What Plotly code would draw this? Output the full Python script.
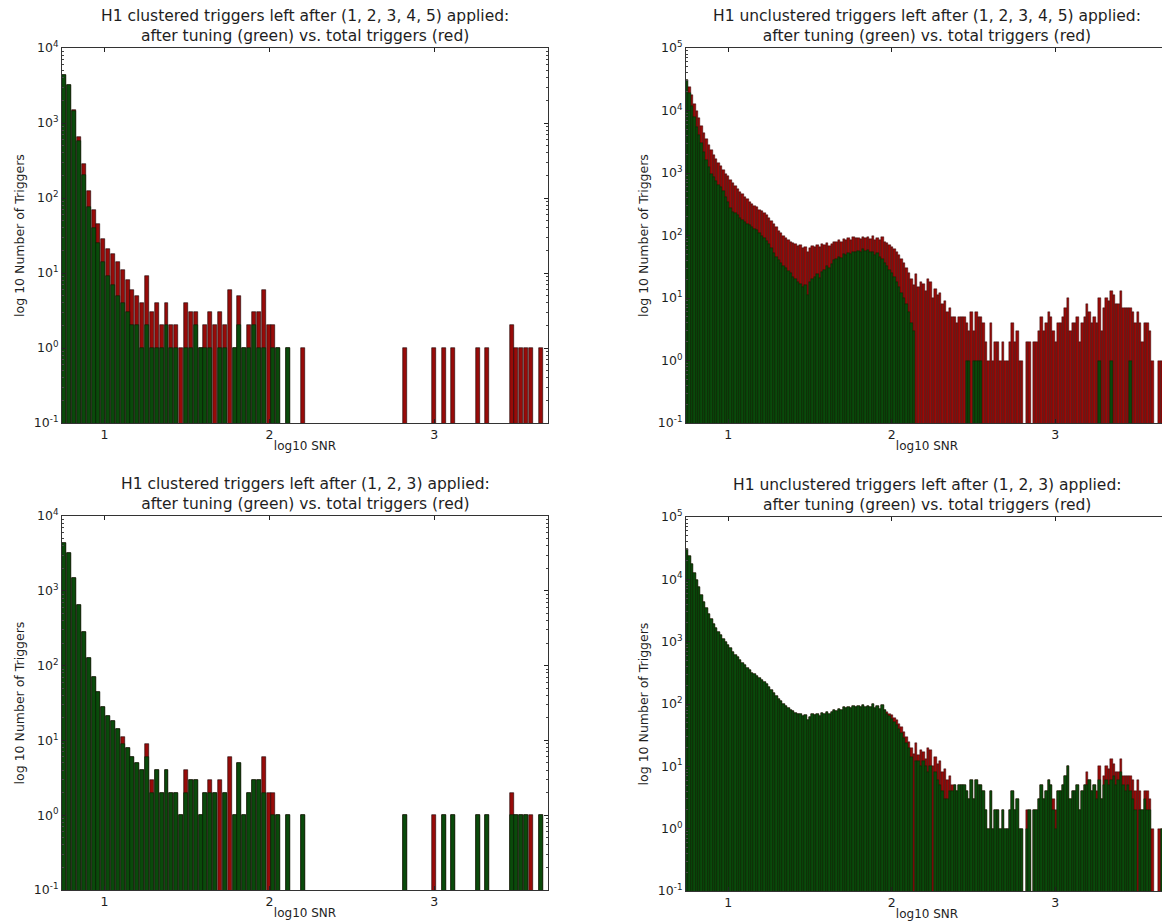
import numpy as np
import plotly.graph_objects as go

# ---------------- data ----------------
SNR_MIN = 0.742
SNR_MAX = 3.69
CLUSTERED_BINS = 100
UNCLUSTERED_BINS = 200

# clustered triggers: total (red)
clustered_total = [
    4300, 3200, 1500, 650, 280, 125, 70, 45, 28, 21,
    18, 14, 11, 8, 6, 5, 4, 9, 3, 4,
    2, 4, 2, 2, 1, 4, 3, 3, 1, 2,
    3, 2, 3, 2, 6, 1, 5, 1, 2, 3,
    3, 6, 2, 2, 1, 0, 1, 0, 0, 1,
    0, 0, 0, 0, 0, 0, 0, 0, 0, 0,
    0, 0, 0, 0, 0, 0, 0, 0, 0, 0,
    1, 0, 0, 0, 0, 0, 1, 0, 1, 0,
    1, 0, 0, 0, 0, 1, 0, 1, 0, 0,
    0, 0, 2, 1, 1, 1, 1, 0, 1, 0,
]
# clustered, after tuning with (1,2,3,4,5)
clustered_tuned_12345 = [
    4300, 3200, 1450, 580, 200, 75, 40, 25, 14, 9,
    7, 5, 4, 3, 2, 2, 1, 2, 1, 1,
    1, 2, 1, 1, 0, 1, 1, 2, 1, 1,
    1, 0, 1, 1, 0, 1, 2, 1, 1, 2,
    1, 1, 0, 1, 1, 0, 1, 0, 0, 0,
    0, 0, 0, 0, 0, 0, 0, 0, 0, 0,
    0, 0, 0, 0, 0, 0, 0, 0, 0, 0,
    0, 0, 0, 0, 0, 0, 0, 0, 0, 0,
    0, 0, 0, 0, 0, 0, 0, 0, 0, 0,
    0, 0, 0, 0, 0, 0, 0, 0, 0, 0,
]
# clustered, after tuning with (1,2,3)
clustered_tuned_123 = [
    4300, 3200, 1500, 650, 280, 125, 70, 45, 28, 21,
    18, 14, 9, 8, 6, 5, 4, 6, 2, 4,
    2, 4, 2, 2, 1, 2, 3, 3, 1, 2,
    2, 2, 0, 2, 0, 1, 5, 1, 2, 3,
    3, 2, 0, 1, 1, 0, 1, 0, 0, 1,
    0, 0, 0, 0, 0, 0, 0, 0, 0, 0,
    0, 0, 0, 0, 0, 0, 0, 0, 0, 0,
    1, 0, 0, 0, 0, 0, 0, 0, 1, 0,
    1, 0, 0, 0, 0, 1, 0, 1, 0, 0,
    0, 0, 1, 1, 1, 1, 0, 0, 1, 0,
]

# unclustered triggers: total (red)
unclustered_total = [
    31000, 24000, 17500, 12500, 9800, 7600, 5600, 4300, 3500, 2800,
    2300, 1950, 1650, 1450, 1300, 1120, 980, 880, 780, 690,
    610, 560, 500, 455, 415, 380, 350, 320, 300, 285,
    260, 245, 225, 210, 190, 170, 150, 135, 120, 110,
    100, 92, 85, 80, 76, 72, 68, 70, 64, 66,
    55, 63, 68, 66, 70, 65, 72, 70, 75, 68,
    74, 80, 78, 84, 80, 88, 85, 90, 86, 94,
    90, 92, 88, 96, 90, 94, 88, 100, 86, 92,
    84, 95, 80, 75, 70, 66, 60, 55, 48, 42,
    36, 30, 25, 20, 16, 24, 15, 18, 17, 13,
    20, 18, 10, 14, 11, 12, 8, 9, 6, 7,
    5, 5, 4, 5, 5, 5, 4, 3, 6, 3,
    6, 5, 5, 4, 2, 1, 4, 1, 2, 2,
    1, 2, 1, 1, 2, 4, 2, 3, 1, 1,
    0, 2, 2, 0, 2, 2, 3, 5, 3, 4,
    6, 5, 3, 2, 4, 4, 5, 7, 10, 3,
    4, 4, 5, 2, 4, 5, 8, 6, 4, 5,
    4, 10, 3, 7, 10, 9, 13, 11, 8, 8,
    13, 7, 7, 7, 7, 6, 4, 6, 4, 2,
    4, 4, 3, 1, 0, 0, 1, 1, 1, 1,
]
# unclustered, after tuning with (1,2,3,4,5)
unclustered_tuned_12345 = [
    31000, 19000, 12000, 8000, 5500, 4000, 3000, 2200, 1600, 1250,
    980, 850, 740, 650, 600, 520, 420, 340, 280, 240,
    225, 210, 190, 175, 165, 155, 145, 135, 128, 122,
    110, 100, 92, 82, 72, 62, 52, 46, 40, 36,
    32, 30, 27, 25, 22, 20, 18, 17, 15, 16,
    11, 18, 20, 22, 24, 21, 26, 28, 32, 30,
    35, 40, 42, 46, 44, 50, 48, 52, 50, 55,
    54, 57, 55, 60, 56, 58, 54, 55, 48, 52,
    45, 42, 36, 32, 28, 25, 22, 18, 15, 12,
    10, 8, 6, 4, 3, 0, 0, 0, 0, 0,
    0, 0, 0, 0, 0, 0, 0, 0, 0, 0,
    0, 0, 0, 0, 0, 0, 1, 1, 0, 1,
    1, 1, 1, 0, 0, 0, 0, 0, 0, 0,
    0, 0, 0, 0, 0, 0, 0, 0, 0, 0,
    0, 0, 0, 0, 0, 0, 0, 0, 0, 0,
    0, 0, 0, 0, 0, 0, 0, 0, 0, 0,
    0, 0, 0, 0, 0, 0, 0, 0, 0, 0,
    0, 1, 0, 0, 0, 0, 1, 0, 0, 0,
    0, 0, 0, 0, 1, 0, 0, 0, 0, 0,
    0, 0, 0, 0, 0, 0, 0, 0, 1, 1,
]
# unclustered, after tuning with (1,2,3)
unclustered_tuned_123 = [
    31000, 24000, 17500, 12500, 9800, 7600, 5600, 4300, 3500, 2800,
    2300, 1950, 1650, 1450, 1300, 1120, 980, 880, 780, 690,
    610, 560, 500, 455, 415, 380, 350, 320, 300, 285,
    260, 245, 225, 210, 190, 170, 150, 135, 120, 110,
    100, 92, 85, 80, 76, 72, 68, 70, 64, 66,
    55, 63, 68, 66, 70, 65, 72, 70, 75, 68,
    74, 80, 78, 84, 80, 88, 85, 90, 86, 94,
    90, 92, 88, 96, 90, 94, 88, 100, 86, 92,
    84, 95, 80, 70, 64, 58, 52, 46, 40, 34,
    28, 24, 20, 14, 0, 12, 12, 10, 12, 10,
    8, 10, 0, 8, 6, 5, 4, 3, 3, 4,
    4, 5, 4, 5, 5, 5, 4, 3, 6, 3,
    6, 5, 5, 4, 2, 1, 4, 1, 2, 2,
    1, 2, 1, 1, 2, 4, 2, 3, 1, 1,
    0, 1, 2, 0, 2, 2, 3, 5, 3, 4,
    6, 5, 2, 1, 4, 4, 5, 7, 10, 3,
    4, 4, 5, 2, 4, 5, 5, 6, 4, 5,
    3, 6, 3, 5, 6, 5, 6, 7, 5, 6,
    8, 5, 4, 5, 4, 3, 2, 0, 2, 2,
    3, 2, 2, 0, 0, 0, 0, 1, 1, 1,
]

x_tick_vals = [1, 2, 3]
x_tick_text = ["1", "2", "3"]
y_tick_exps = [-1, 0, 1, 2, 3, 4, 5]

titles = [
    "H1 clustered triggers left after (1, 2, 3, 4, 5) applied:<br>after tuning (green) vs. total triggers (red)",
    "H1 unclustered triggers left after (1, 2, 3, 4, 5) applied:<br>after tuning (green) vs. total triggers (red)",
    "H1 clustered triggers left after (1, 2, 3) applied:<br>after tuning (green) vs. total triggers (red)",
    "H1 unclustered triggers left after (1, 2, 3) applied:<br>after tuning (green) vs. total triggers (red)",
]
x_label = "log10 SNR"
y_label = "log 10 Number of Triggers"

# ---------------- figure ----------------
OFF = 8  # page body margin of the html document
W, H = 1170 - OFF, 922 - OFF
RED = "#970b09"
GREEN = "#0a4a0b"
FONT = "DejaVu Sans"
TXT = "#1e1e1e"

# pixel boxes in the window (left, right, top, bottom)
boxes = [(62, 548, 48, 423), (686, 1168, 48, 423),
         (62, 548, 516, 890), (686, 1168, 517, 891)]
ymax_dec = [4, 5, 4, 5]

panels = [
    (clustered_total, clustered_tuned_12345, CLUSTERED_BINS),
    (unclustered_total, unclustered_tuned_12345, UNCLUSTERED_BINS),
    (clustered_total, clustered_tuned_123, CLUSTERED_BINS),
    (unclustered_total, unclustered_tuned_123, UNCLUSTERED_BINS),
]

fig = go.Figure()
layout = dict(width=W, height=H, margin=dict(l=0, r=0, t=0, b=0, autoexpand=False),
              paper_bgcolor="white", plot_bgcolor="white",
              barmode="overlay", showlegend=False, bargap=0,
              font=dict(family=FONT, color=TXT, size=12))
annotations = []

for k, ((tot, tun, nb), box) in enumerate(zip(panels, boxes)):
    edges = np.linspace(SNR_MIN, SNR_MAX, nb + 1)
    centers = (edges[:-1] + edges[1:]) / 2
    bw = edges[1] - edges[0]
    bar_w = bw * (0.82 if nb == CLUSTERED_BINS else 1.0)
    ax = "" if k == 0 else str(k + 1)
    tot_v = [v if v > 0 else None for v in tot]
    tun_v = [v if v > 0 else None for v in tun]
    lw = 0.6 if nb == CLUSTERED_BINS else 0.4
    fig.add_trace(go.Bar(x=centers, y=tot_v, width=bar_w,
                         marker=dict(color=RED, line=dict(color="#1a0000", width=lw)),
                         xaxis="x" + ax, yaxis="y" + ax, hoverinfo="x+y"))
    fig.add_trace(go.Bar(x=centers, y=tun_v, width=bar_w,
                         marker=dict(color=GREEN, line=dict(color="#061f06", width=lw)),
                         xaxis="x" + ax, yaxis="y" + ax, hoverinfo="x+y"))
    l, r, t, b = [v - OFF for v in box]
    xd = [l / W, r / W]
    yd = [1 - b / H, 1 - t / H]
    exps = [e for e in y_tick_exps if e <= ymax_dec[k]]
    layout["xaxis" + ax] = dict(
        domain=xd, anchor="y" + ax, range=[SNR_MIN, SNR_MAX], automargin=False,
        tickvals=x_tick_vals, ticktext=x_tick_text, ticks="inside", ticklen=4,
        tickcolor="#222", showline=True, linecolor="#333", linewidth=1, mirror="allticks",
        showgrid=False, zeroline=False, tickfont=dict(size=12.5, color=TXT),
        title=dict(text=x_label, font=dict(size=12, color=TXT), standoff=0),
        ticklabelstandoff=0,
    )
    layout["yaxis" + ax] = dict(
        domain=yd, anchor="x" + ax, type="log", range=[-1, ymax_dec[k]], automargin=False,
        tickvals=[10.0 ** e for e in exps],
        ticktext=["10<sup>%d</sup>" % e for e in exps],
        ticks="inside", ticklen=4, tickcolor="#222",
        minor=dict(ticks="inside", ticklen=2, tickcolor="#444", dtick="D1", showgrid=False),
        showline=True, linecolor="#333", linewidth=1, mirror="allticks",
        showgrid=False, zeroline=False, tickfont=dict(size=12.5, color=TXT),
        title=dict(text=y_label, font=dict(size=12.5, color=TXT), standoff=6),
    )
    annotations.append(dict(
        text=titles[k], xref="paper", yref="paper",
        x=(l + r) / 2 / W, y=1 - t / H, xanchor="center", yanchor="bottom",
        yshift=1, showarrow=False, align="center",
        font=dict(family=FONT, size=15.5, color=TXT),
    ))

layout["annotations"] = annotations
fig.update_layout(**layout)
fig.write_html("out.html")
